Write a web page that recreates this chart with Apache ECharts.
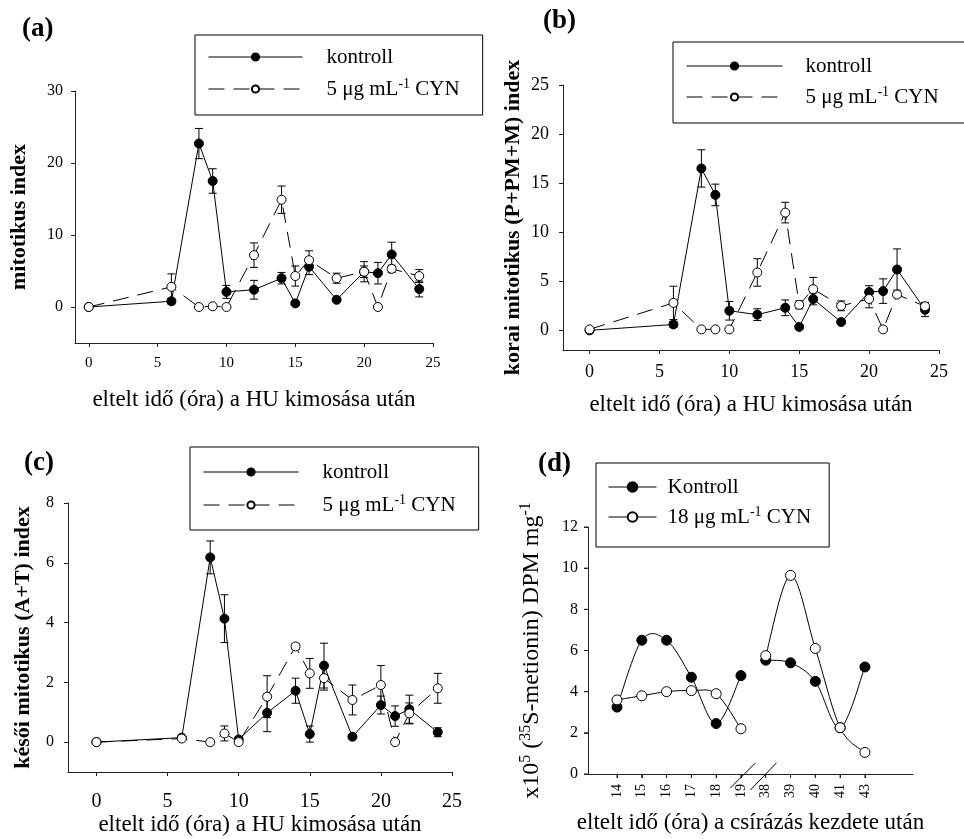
<!DOCTYPE html>
<html>
<head>
<meta charset="utf-8">
<script src="https://cdn.jsdelivr.net/npm/echarts@6/dist/echarts.min.js"></script>
<style>
  html, body { margin: 0; background: #fff; }
  #chart { width: 964px; height: 839px; }
</style>
</head>
<body>
<div id="chart"></div>
<script>
// sampling times (hours after HU wash-out), panels a-c
var hours = [0, 6, 8, 9, 10, 12, 14, 15, 16, 18, 20, 21, 22, 24];

// (a) mitotic index
var aKontroll    = [0, 0.8, 22.7, 17.5, 2.1, 2.4, 4.0, 0.5, 5.6, 1.0, 4.9, 4.7, 7.3, 2.5];
var aKontrollErr = [0, 0.4, 2.1, 1.7, 0.9, 1.3, 0.8, 0.2, 1.1, 0.2, 0.8, 1.5, 1.7, 1.1];
var aCyn         = [0, 2.8, 0, 0.1, 0, 7.2, 14.9, 4.3, 6.5, 4.0, 4.9, 0, 5.3, 4.3];
var aCynErr      = [0, 1.8, 0, 0, 0, 1.7, 1.9, 1.4, 1.3, 0.7, 1.4, 0, 0.5, 0.9];

// (b) early mitotic (P+PM+M) index
var bKontroll    = [0, 0.6, 16.5, 13.8, 2.0, 1.6, 2.3, 0.35, 3.2, 0.85, 3.9, 4.0, 6.2, 2.1];
var bKontrollErr = [0, 0.3, 1.9, 1.1, 0.95, 0.6, 0.8, 0.2, 0.6, 0.2, 0.65, 1.25, 2.1, 0.7];
var bCyn         = [0.1, 2.8, 0.1, 0.1, 0.1, 5.9, 12.0, 2.6, 4.2, 2.5, 3.2, 0.1, 3.65, 2.45];
var bCynErr      = [0, 1.7, 0, 0, 0, 1.4, 1.05, 0.4, 1.2, 0.5, 0.9, 0, 0.3, 0.4];

// (c) late mitotic (A+T) index
var cKontroll    = [0, 0.15, 6.18, 4.13, 0.09, 0.98, 1.72, 0.27, 2.56, 0.18, 1.24, 0.87, 1.1, 0.33];
var cKontrollErr = [0, 0.05, 0.55, 0.8, 0.05, 0.63, 0.42, 0.27, 0.75, 0.05, 0.3, 0.34, 0.47, 0.15];
var cCyn         = [0, 0.12, 0, 0.29, 0, 1.52, 3.2, 2.3, 2.14, 1.41, 1.91, 0, 0.96, 1.8];
var cCynErr      = [0, 0.05, 0, 0.25, 0, 0.7, 0.1, 0.5, 0.4, 0.5, 0.65, 0, 0.35, 0.5];

// (d) 35S-methionine incorporation, broken time axis (two runs: 14-19 h, 38-43 h)
var dHours    = ['14', '15', '16', '17', '18', '19', '38', '39', '40', '41', '43'];
var dRun      = [0, 0, 0, 0, 0, 0, 1, 1, 1, 1, 1];
var dKontroll = [3.25, 6.5, 6.5, 4.7, 2.45, 4.78, 5.53, 5.4, 4.5, 2.25, 5.2];
var dCyn      = [3.6, 3.8, 4.0, 4.05, 3.9, 2.2, 5.75, 9.65, 6.1, 2.25, 1.05];

var xTicksABC = [0, 5, 10, 15, 20, 25];
var yTicksA = [0, 10, 20, 30];
var yTicksB = [0, 5, 10, 15, 20, 25];
var yTicksC = [0, 2, 4, 6, 8];
var yTicksD = [0, 2, 4, 6, 8, 10, 12];

var FONT = 'Liberation Serif';
var NAME_K = 'kontroll', NAME_C = '5 μg mL-1 CYN';
var NAME_DK = 'Kontroll', NAME_DC = '18 μg mL-1 CYN';
var D_XMIN = -1.17, D_XMAX = 11.94;

function pairs(xs, ys) {
  return xs.map(function (x, i) { return [x, ys[i]]; });
}
function bars(xs, ys, es) {
  return xs.map(function (x, i) { return [x, ys[i] - es[i], ys[i] + es[i]]; });
}
function dPoints(vals) {
  return vals.map(function (v, i) { return [i, v, dRun[i]]; });
}

function errRender(params, api) {
  var x = api.value(0), lo = api.value(1), hi = api.value(2);
  if (!(hi - lo > 0.001)) return null;
  var p1 = api.coord([x, hi]), p2 = api.coord([x, lo]);
  var w = 4, st = { stroke: '#000', lineWidth: 1 };
  return {
    type: 'group',
    children: [
      { type: 'line', shape: { x1: p1[0], y1: p1[1], x2: p2[0], y2: p2[1] }, style: st },
      { type: 'line', shape: { x1: p1[0] - w, y1: p1[1], x2: p1[0] + w, y2: p1[1] }, style: st },
      { type: 'line', shape: { x1: p2[0] - w, y1: p2[1], x2: p2[0] + w, y2: p2[1] }, style: st }
    ]
  };
}

// catmull-rom segment from point i to i+1, kept inside one run
function splineRender(params, api) {
  var i = params.dataIndexInside, n = params.dataInsideLength;
  if (i >= n - 1) return null;
  var run = api.value(2, i);
  if (api.value(2, i + 1) !== run) return null;
  function pt(k) { return api.coord([api.value(0, k), api.value(1, k)]); }
  var p1 = pt(i), p2 = pt(i + 1);
  var p0 = (i > 0 && api.value(2, i - 1) === run) ? pt(i - 1) : p1;
  var p3 = (i + 2 < n && api.value(2, i + 2) === run) ? pt(i + 2) : p2;
  return {
    type: 'bezierCurve',
    shape: {
      x1: p1[0], y1: p1[1], x2: p2[0], y2: p2[1],
      cpx1: p1[0] + (p2[0] - p0[0]) / 6, cpy1: p1[1] + (p2[1] - p0[1]) / 6,
      cpx2: p2[0] - (p3[0] - p1[0]) / 6, cpy2: p2[1] - (p3[1] - p1[1]) / 6
    },
    style: { stroke: '#000', fill: null, lineWidth: 1 }
  };
}

var supRich = {
  sup: { fontSize: 14, fontFamily: FONT, color: '#000', verticalAlign: 'top', lineHeight: 24 }
};
function supFmt(name) {
  return name.replace('mL-1', 'mL{sup|-1}');
}

function panelSeries(idx, kon, konErr, cyn, cynErr) {
  return [
    { type: 'custom', xAxisIndex: idx, yAxisIndex: idx, renderItem: errRender, silent: true,
      encode: { x: 0, y: [1, 2] }, data: bars(hours, kon, konErr), z: 1 },
    { type: 'custom', xAxisIndex: idx, yAxisIndex: idx, renderItem: errRender, silent: true,
      encode: { x: 0, y: [1, 2] }, data: bars(hours, cyn, cynErr), z: 1 },
    { name: NAME_K, type: 'line', xAxisIndex: idx, yAxisIndex: idx, data: pairs(hours, kon),
      symbol: 'circle', symbolSize: 9, z: 3,
      itemStyle: { color: '#000', borderColor: '#000', borderWidth: 1 },
      lineStyle: { color: '#000', width: 1 } },
    { name: NAME_C, type: 'line', xAxisIndex: idx, yAxisIndex: idx, data: pairs(hours, cyn),
      symbol: 'circle', symbolSize: 9, z: 4,
      itemStyle: { color: '#fff', borderColor: '#000', borderWidth: 1 },
      lineStyle: { color: '#000', width: 1, type: [16, 9] } }
  ];
}

function axisLineOf() {
  return { show: true, onZero: false, lineStyle: { color: '#222', width: 1 } };
}

function xAxisOf(gi, min, max, ticks, fs, margin, gap) {
  return {
    gridIndex: gi, type: 'value', min: min, max: max,
    name: 'eltelt idő (óra) a HU kimosása után', nameLocation: 'middle', nameGap: gap,
    nameTextStyle: { fontFamily: FONT, fontSize: 23, color: '#000' },
    axisLine: axisLineOf(),
    axisTick: { show: true, customValues: ticks, length: 4, lineStyle: { color: '#222' } },
    axisLabel: { customValues: ticks, fontFamily: FONT, fontSize: fs, color: '#000', margin: margin },
    splitLine: { show: false }
  };
}
function yAxisOf(gi, min, max, ticks, fs, margin, name, nfs, gap) {
  return {
    gridIndex: gi, type: 'value', position: 'left', min: min, max: max,
    name: name, nameLocation: 'middle', nameGap: gap,
    nameTextStyle: { fontFamily: FONT, fontSize: nfs, fontWeight: 'bold', color: '#000' },
    axisLine: axisLineOf(),
    axisTick: { show: true, customValues: ticks, length: 4, lineStyle: { color: '#222' } },
    axisLabel: { customValues: ticks, fontFamily: FONT, fontSize: fs, color: '#000', margin: margin },
    splitLine: { show: false }
  };
}
function legendOf(left, top, pad, itemW, itemH, gap, textPad, names) {
  return {
    left: left, top: top, orient: 'vertical', padding: pad,
    itemWidth: itemW, itemHeight: itemH, itemGap: gap,
    borderColor: '#000', borderWidth: 1, selectedMode: false,
    data: names, formatter: supFmt,
    lineStyle: { color: '#000', width: 1, opacity: 1 },
    textStyle: { fontFamily: FONT, fontSize: 21, color: '#000', lineHeight: 24,
      padding: [0, 0, 0, textPad], rich: supRich }
  };
}

var labelStyle = { fontFamily: FONT, fontSize: 27, fontWeight: 'bold', color: '#000' };
var dIdx = dHours.map(function (h, i) { return i; });

var dYAxis = yAxisOf(3, 0, 12, yTicksD, 16, 10,
  'x10{sup|5} ({sup|35}S-metionin) DPM mg{sup|-1}', 24, 42);
dYAxis.nameTextStyle = { fontFamily: FONT, fontSize: 24, color: '#000', lineHeight: 28,
  rich: { sup: { fontSize: 16, fontFamily: FONT, color: '#000', verticalAlign: 'top', lineHeight: 28 } } };

var option = {
  backgroundColor: '#fff',
  animation: false,
  title: [
    { text: '(a)', left: 22, top: 16, padding: 0, textStyle: labelStyle },
    { text: '(b)', left: 543, top: 8, padding: 0, textStyle: labelStyle },
    { text: '(c)', left: 24, top: 450, padding: 0, textStyle: labelStyle },
    { text: '(d)', left: 538, top: 451, padding: 0, textStyle: labelStyle }
  ],
  legend: [
    legendOf(195, 35, [10, 23, 14, 13], 94, 9, 8, 19, [NAME_K, NAME_C]),
    legendOf(673, 42, [12, 28, 14, 13], 96, 9, 7, 18, [NAME_K, NAME_C]),
    legendOf(190, 447, [13, 23, 13, 13], 95, 9, 9, 19, [NAME_K, NAME_C]),
    legendOf(596, 463, [12, 18, 18, 12], 48, 12, 6, 6, [NAME_DK, NAME_DC])
  ],
  grid: [
    { left: 75, top: 91, width: 358, height: 252, outerBoundsMode: 'none' },
    { left: 563, top: 85, width: 376, height: 265, outerBoundsMode: 'none' },
    { left: 68, top: 503, width: 384, height: 269, outerBoundsMode: 'none' },
    { left: 588, top: 527, width: 325, height: 247, outerBoundsMode: 'none' }
  ],
  xAxis: [
    xAxisOf(0, -1, 25, xTicksABC, 15, 13, 45),
    xAxisOf(1, -1.9, 25, xTicksABC, 18, 13, 43),
    xAxisOf(2, -2, 25, xTicksABC, 20, 20, 41),
    {
      gridIndex: 3, type: 'value', min: D_XMIN, max: D_XMAX,
      name: 'eltelt idő (óra) a csírázás kezdete után', nameLocation: 'middle', nameGap: 37,
      nameTextStyle: { fontFamily: FONT, fontSize: 23, color: '#000' },
      axisLine: axisLineOf(),
      axisTick: { show: true, customValues: dIdx, length: 4, lineStyle: { color: '#222' } },
      axisLabel: {
        customValues: dIdx,
        formatter: function (v) { return dHours[Math.round(v)]; },
        rotate: 90, fontFamily: FONT, fontSize: 14, color: '#000', margin: 10
      },
      splitLine: { show: false }
    }
  ],
  yAxis: [
    yAxisOf(0, -5, 30, yTicksA, 16, 12, 'mitotikus index', 22, 45),
    yAxisOf(1, -2, 25, yTicksB, 18, 14, 'korai mitotikus (P+PM+M) index', 22, 39),
    yAxisOf(2, -1, 8, yTicksC, 16, 14, 'késői mitotikus (A+T) index', 22, 34),
    dYAxis
  ],
  series: []
    .concat(panelSeries(0, aKontroll, aKontrollErr, aCyn, aCynErr))
    .concat(panelSeries(1, bKontroll, bKontrollErr, bCyn, bCynErr))
    .concat(panelSeries(2, cKontroll, cKontrollErr, cCyn, cCynErr))
    .concat([
      { type: 'custom', xAxisIndex: 3, yAxisIndex: 3, renderItem: splineRender, silent: true,
        encode: { x: 0, y: 1 }, data: dPoints(dKontroll), z: 2 },
      { type: 'custom', xAxisIndex: 3, yAxisIndex: 3, renderItem: splineRender, silent: true,
        encode: { x: 0, y: 1 }, data: dPoints(dCyn), z: 2 },
      { name: NAME_DK, type: 'line', xAxisIndex: 3, yAxisIndex: 3, data: pairs(dIdx, dKontroll),
        symbol: 'circle', symbolSize: 10, z: 3,
        itemStyle: { color: '#000', borderColor: '#000', borderWidth: 1 },
        lineStyle: { color: '#000', width: 1, opacity: 0 } },
      { name: NAME_DC, type: 'line', xAxisIndex: 3, yAxisIndex: 3, data: pairs(dIdx, dCyn),
        symbol: 'circle', symbolSize: 10, z: 4,
        itemStyle: { color: '#fff', borderColor: '#000', borderWidth: 1 },
        lineStyle: { color: '#000', width: 1, opacity: 0 } }
    ])
};

var myChart = echarts.init(document.getElementById('chart'));
myChart.setOption(option, true);

// (d): axis line + ticks and the break marks, placed from the axis scale
var finder = { xAxisIndex: 3, yAxisIndex: 3 };
var stroke = { stroke: '#222', lineWidth: 1 };
var bottom = myChart.convertToPixel(finder, [D_XMIN, 0]);
var top = myChart.convertToPixel(finder, [D_XMIN, 12]);
var decor = [
  { type: 'line', z: 5, shape: { x1: bottom[0], y1: bottom[1], x2: top[0], y2: top[1] }, style: stroke }
];
yTicksD.forEach(function (v) {
  var p = myChart.convertToPixel(finder, [D_XMIN, v]);
  decor.push({ type: 'line', z: 5, shape: { x1: p[0] - 4, y1: p[1], x2: p[0], y2: p[1] }, style: stroke });
});
dIdx.forEach(function (v) {
  var p = myChart.convertToPixel(finder, [v, 0]);
  decor.push({ type: 'line', z: 5, shape: { x1: p[0], y1: p[1], x2: p[0], y2: p[1] + 4 }, style: stroke });
});
// axis break between 19 h and 38 h
var br = myChart.convertToPixel(finder, [5.5, 0]);
decor.push({ type: 'line', z: 5, shape: { x1: br[0] - 23, y1: br[1] + 14, x2: br[0] + 2, y2: br[1] - 11 }, style: { stroke: '#000', lineWidth: 1 } });
decor.push({ type: 'line', z: 5, shape: { x1: br[0] - 3, y1: br[1] + 16, x2: br[0] + 23, y2: br[1] - 11 }, style: { stroke: '#000', lineWidth: 1 } });
myChart.setOption({ graphic: decor });
</script>
</body>
</html>
